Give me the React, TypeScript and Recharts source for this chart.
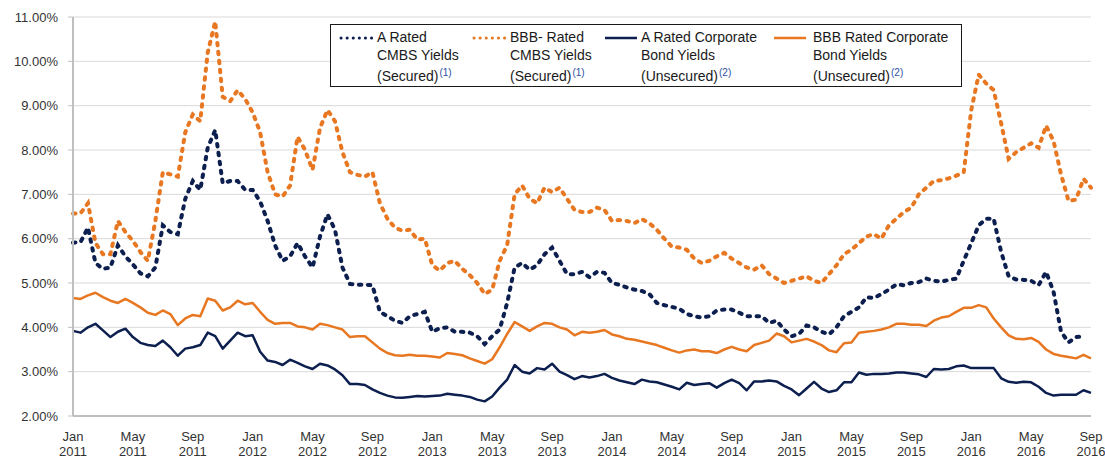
import React from 'react';
import { LineChart, Line, XAxis, YAxis, CartesianGrid, Legend } from 'recharts';

// Semi-monthly samples, Jan 2011 .. Sep 2016 (index i -> month i/2 since Jan 2011)
const aCmbs: (number | null)[] = [
  5.91, 5.92, 6.25, 5.45, 5.32, 5.35, 5.85, 5.6, 5.42, 5.22,
  5.15, 5.35, 6.3, 6.15, 6.1, 6.9, 7.3, 7.1, 8.05, 8.45,
  7.25, 7.3, 7.3, 7.1, 7.1, 6.84, 6.4, 5.85, 5.5, 5.6,
  5.9, 5.6, 5.35, 6.05, 6.55, 6.2, 5.35, 4.98, 4.96, 4.96,
  4.95, 4.35, 4.25, 4.15, 4.1, 4.25, 4.3, 4.35, 3.9, 3.98,
  4.0, 3.9, 3.9, 3.88, 3.8, 3.62, 3.8, 3.95, 4.55, 5.35,
  5.45, 5.3, 5.4, 5.65, 5.8, 5.5, 5.2, 5.2, 5.25, 5.13,
  5.25, 5.23, 5.0, 4.96, 4.9, 4.85, 4.82, 4.75, 4.55, 4.5,
  4.46, 4.42, 4.3, 4.25, 4.22, 4.25, 4.38, 4.4, 4.4, 4.33,
  4.25, 4.25, 4.25, 4.1, 4.15, 3.95, 3.8, 3.85, 4.04, 4.0,
  3.9, 3.84, 4.0, 4.25, 4.35, 4.45, 4.68, 4.66, 4.75, 4.85,
  4.97, 4.95, 5.0, 5.02, 5.1, 5.05, 5.03, 5.07, 5.1, 5.5,
  5.9, 6.3, 6.45, 6.45, 5.7, 5.15, 5.08, 5.07, 5.05, 4.95,
  5.25, 4.8, 3.9, 3.66, 3.78, 3.8, null,
];

const bbbCmbs: number[] = [
  6.57, 6.57, 6.8, 5.9, 5.65, 5.65, 6.4, 6.15, 5.95, 5.7,
  5.5, 6.4, 7.5, 7.45, 7.4, 8.4, 8.8, 8.65, 10.2, 10.9,
  9.2, 9.1, 9.35, 9.15, 8.85, 8.4, 7.5, 7.0, 6.95, 7.2,
  8.3, 8.0, 7.55, 8.5, 8.9, 8.65, 7.95, 7.5, 7.44, 7.4,
  7.5, 6.8, 6.45, 6.25, 6.18, 6.2, 5.98, 6.0, 5.4, 5.28,
  5.45, 5.5, 5.32, 5.18, 5.0, 4.75, 4.85, 5.5, 5.85, 7.0,
  7.2, 6.9, 6.8, 7.15, 7.05, 7.15, 6.9, 6.65, 6.6, 6.6,
  6.7, 6.65, 6.4, 6.42, 6.4, 6.35, 6.44, 6.35, 6.2, 6.0,
  5.82, 5.8, 5.75, 5.55, 5.45, 5.5, 5.6, 5.68, 5.55, 5.45,
  5.35, 5.3, 5.4, 5.2, 5.1, 5.0, 5.05, 5.1, 5.15, 5.05,
  5.0, 5.2, 5.4, 5.65, 5.75, 5.9, 6.05, 6.1, 6.0, 6.3,
  6.45, 6.6, 6.7, 7.0, 7.15, 7.3, 7.32, 7.36, 7.42, 7.5,
  8.9, 9.7, 9.5, 9.35, 8.6, 7.8, 7.95, 8.05, 8.15, 8.05,
  8.55, 8.2, 7.45, 6.85, 6.88, 7.35, 7.15,
];

const aCorp: number[] = [
  3.92, 3.88, 4.0, 4.08, 3.93, 3.78, 3.9, 3.97, 3.78, 3.65,
  3.6, 3.58, 3.7, 3.55, 3.36, 3.52, 3.55, 3.6, 3.88, 3.8,
  3.52, 3.7, 3.88, 3.8, 3.82, 3.45, 3.25, 3.22, 3.15, 3.27,
  3.2, 3.12, 3.06, 3.18, 3.14, 3.05, 2.92, 2.72, 2.72, 2.7,
  2.6, 2.52, 2.46, 2.42, 2.41, 2.43, 2.45, 2.44, 2.45, 2.46,
  2.5, 2.48, 2.46, 2.43, 2.37, 2.33, 2.44, 2.64, 2.82, 3.15,
  3.0, 2.96, 3.08, 3.05, 3.18, 3.0, 2.92, 2.83, 2.9, 2.87,
  2.9, 2.95, 2.86, 2.8, 2.76, 2.72, 2.82, 2.78, 2.76, 2.71,
  2.66, 2.6, 2.75, 2.7, 2.72, 2.74, 2.64, 2.74, 2.82, 2.74,
  2.58, 2.78, 2.78, 2.8, 2.78, 2.68, 2.6, 2.47, 2.62, 2.77,
  2.62, 2.54, 2.58, 2.76, 2.76, 2.98, 2.93, 2.95, 2.95, 2.96,
  2.98, 2.98, 2.96, 2.94, 2.88, 3.06, 3.05, 3.06, 3.12, 3.14,
  3.08, 3.08, 3.08, 3.08, 2.85, 2.77, 2.75, 2.77, 2.76, 2.66,
  2.52, 2.46, 2.48, 2.48, 2.48, 2.58, 2.52,
];

const bbbCorp: number[] = [
  4.66, 4.64, 4.72, 4.78, 4.68, 4.6, 4.55, 4.64, 4.55, 4.45,
  4.33, 4.28, 4.38, 4.3, 4.05, 4.2, 4.28, 4.25, 4.65, 4.6,
  4.38, 4.45, 4.6, 4.52, 4.55, 4.35, 4.17, 4.08, 4.1, 4.1,
  4.02, 4.0, 3.95, 4.08, 4.05, 4.0, 3.95, 3.78, 3.8, 3.8,
  3.66, 3.52, 3.42, 3.37, 3.36, 3.38, 3.36, 3.36, 3.34, 3.32,
  3.42, 3.4, 3.37, 3.3, 3.24, 3.18, 3.28, 3.55, 3.85, 4.12,
  4.02, 3.92, 4.02, 4.1, 4.08, 4.0, 3.95, 3.82, 3.9, 3.88,
  3.9, 3.94, 3.84, 3.8, 3.74, 3.72, 3.68, 3.64, 3.6, 3.54,
  3.48, 3.43, 3.48, 3.5, 3.46, 3.46, 3.42, 3.5, 3.56, 3.5,
  3.46, 3.6, 3.65, 3.7, 3.86, 3.8, 3.66, 3.7, 3.74, 3.68,
  3.6, 3.48, 3.44, 3.64, 3.66, 3.88, 3.9, 3.92, 3.95, 4.0,
  4.08, 4.08, 4.06, 4.06, 4.03, 4.15, 4.22, 4.25, 4.35, 4.44,
  4.44, 4.5, 4.45, 4.2, 4.0, 3.82, 3.74, 3.73, 3.76, 3.67,
  3.5, 3.4, 3.36, 3.33, 3.3, 3.38, 3.3,
];

const xTicks = [0, 4, 8, 12, 16, 20, 24, 28, 32, 36, 40, 44, 48, 52, 56, 60, 64, 68];
const xTickMonths = ['Jan', 'May', 'Sep', 'Jan', 'May', 'Sep', 'Jan', 'May', 'Sep', 'Jan', 'May', 'Sep', 'Jan', 'May', 'Sep', 'Jan', 'May', 'Sep'];
const xTickYears = ['2011', '2011', '2011', '2012', '2012', '2012', '2013', '2013', '2013', '2014', '2014', '2014', '2015', '2015', '2015', '2016', '2016', '2016'];
const yTicks = [2, 3, 4, 5, 6, 7, 8, 9, 10, 11];

const legendLines = [
  ['A Rated', 'CMBS Yields', '(Secured)'],
  ['BBB- Rated', 'CMBS Yields', '(Secured)'],
  ['A Rated Corporate', 'Bond Yields', '(Unsecured)'],
  ['BBB Rated Corporate', 'Bond Yields', '(Unsecured)'],
];
const legendNotes = ['(1)', '(1)', '(2)', '(2)'];

const NAVY = '#0c1f4f';
const ORANGE = '#e87722';
const FONT = '"Liberation Sans", Arial, sans-serif';

const legendColors = [NAVY, ORANGE, NAVY, ORANGE];
const legendDotted = [true, true, false, false];
const legendSampleX = [8, 141, 272, 441];
const legendTextX = [46, 179, 310, 482];

const data = aCorp.map((_, i) => ({
  m: i / 2,
  aCmbs: aCmbs[i],
  bbbCmbs: bbbCmbs[i],
  aCorp: aCorp[i],
  bbbCorp: bbbCorp[i],
}));

const XTick = (props: any) => {
  const { x, y, payload } = props;
  const i = xTicks.indexOf(payload.value);
  return (
    <text x={x} y={y} textAnchor="middle" fill="#333" fontSize={13} fontFamily={FONT}>
      <tspan x={x} dy={23}>{xTickMonths[i]}</tspan>
      <tspan x={x} dy={15}>{xTickYears[i]}</tspan>
    </text>
  );
};

const renderLegend = () => (
  <div
    style={{
      position: 'relative',
      width: 632,
      height: 63,
      border: '1.5px solid #1a1a1a',
      boxSizing: 'border-box',
      background: '#fff',
      fontFamily: FONT,
      fontSize: 14,
      color: '#1a1a1a',
    }}
  >
    {legendLines.map((lines, i) => (
      <React.Fragment key={i}>
        <svg
          width={36}
          height={6}
          style={{ position: 'absolute', left: legendSampleX[i], top: 10 }}
        >
          <line
            x1={2}
            y1={3}
            x2={34}
            y2={3}
            stroke={legendColors[i]}
            strokeWidth={legendDotted[i] ? 3 : 2.5}
            strokeDasharray={legendDotted[i] ? '0.1 6' : undefined}
            strokeLinecap={legendDotted[i] ? 'round' : 'butt'}
          />
        </svg>
        <div
          style={{
            position: 'absolute',
            left: legendTextX[i],
            top: 3,
            lineHeight: '18px',
            whiteSpace: 'nowrap',
          }}
        >
          <div>{lines[0]}</div>
          <div>{lines[1]}</div>
          <div>
            {lines[2]}
            <span style={{ fontSize: 10, color: '#2b4fa0', verticalAlign: 5, marginLeft: 1 }}>
              {legendNotes[i]}
            </span>
          </div>
        </div>
      </React.Fragment>
    ))}
  </div>
);

export default function App() {
  return (
    <div style={{ position: 'absolute', left: 0, top: 0, width: 1105, height: 461, background: '#fff' }}>
      <LineChart
        width={1105}
        height={461}
        data={data}
        margin={{ top: 17, right: 14, left: 0, bottom: 0 }}
      >
        <CartesianGrid vertical={false} stroke="#d9d9d9" strokeWidth={1} />
        <XAxis
          type="number"
          dataKey="m"
          domain={[0, 68]}
          ticks={xTicks}
          interval={0}
          height={45}
          tickLine={false}
          tickSize={0}
          axisLine={{ stroke: '#bfbfbf', strokeWidth: 2 }}
          tick={<XTick />}
        />
        <YAxis
          type="number"
          domain={[2, 11]}
          ticks={yTicks}
          interval={0}
          width={73}
          tickSize={5}
          tickMargin={10}
          tickLine={{ stroke: '#bfbfbf' }}
          axisLine={{ stroke: '#bfbfbf', strokeWidth: 2 }}
          tickFormatter={(v: number) => v.toFixed(2) + '%'}
          tick={{ fill: '#333', fontSize: 13, fontFamily: FONT }}
        />
        <Legend
          layout="horizontal"
          verticalAlign="middle"
          align="center"
          content={renderLegend}
          wrapperStyle={{ left: 330, top: 24, width: 632, height: 63 }}
        />
        <Line
          dataKey="bbbCorp"
          stroke={ORANGE}
          strokeWidth={2.5}
          dot={false}
          isAnimationActive={false}
          strokeLinejoin="round"
        />
        <Line
          dataKey="aCorp"
          stroke={NAVY}
          strokeWidth={2.5}
          dot={false}
          isAnimationActive={false}
          strokeLinejoin="round"
        />
        <Line
          dataKey="bbbCmbs"
          stroke={ORANGE}
          strokeWidth={4}
          strokeDasharray="2.5 6.5"
          strokeLinecap="round"
          dot={false}
          isAnimationActive={false}
        />
        <Line
          dataKey="aCmbs"
          stroke={NAVY}
          strokeWidth={4}
          strokeDasharray="2.5 6.5"
          strokeLinecap="round"
          dot={false}
          isAnimationActive={false}
        />
      </LineChart>
    </div>
  );
}
